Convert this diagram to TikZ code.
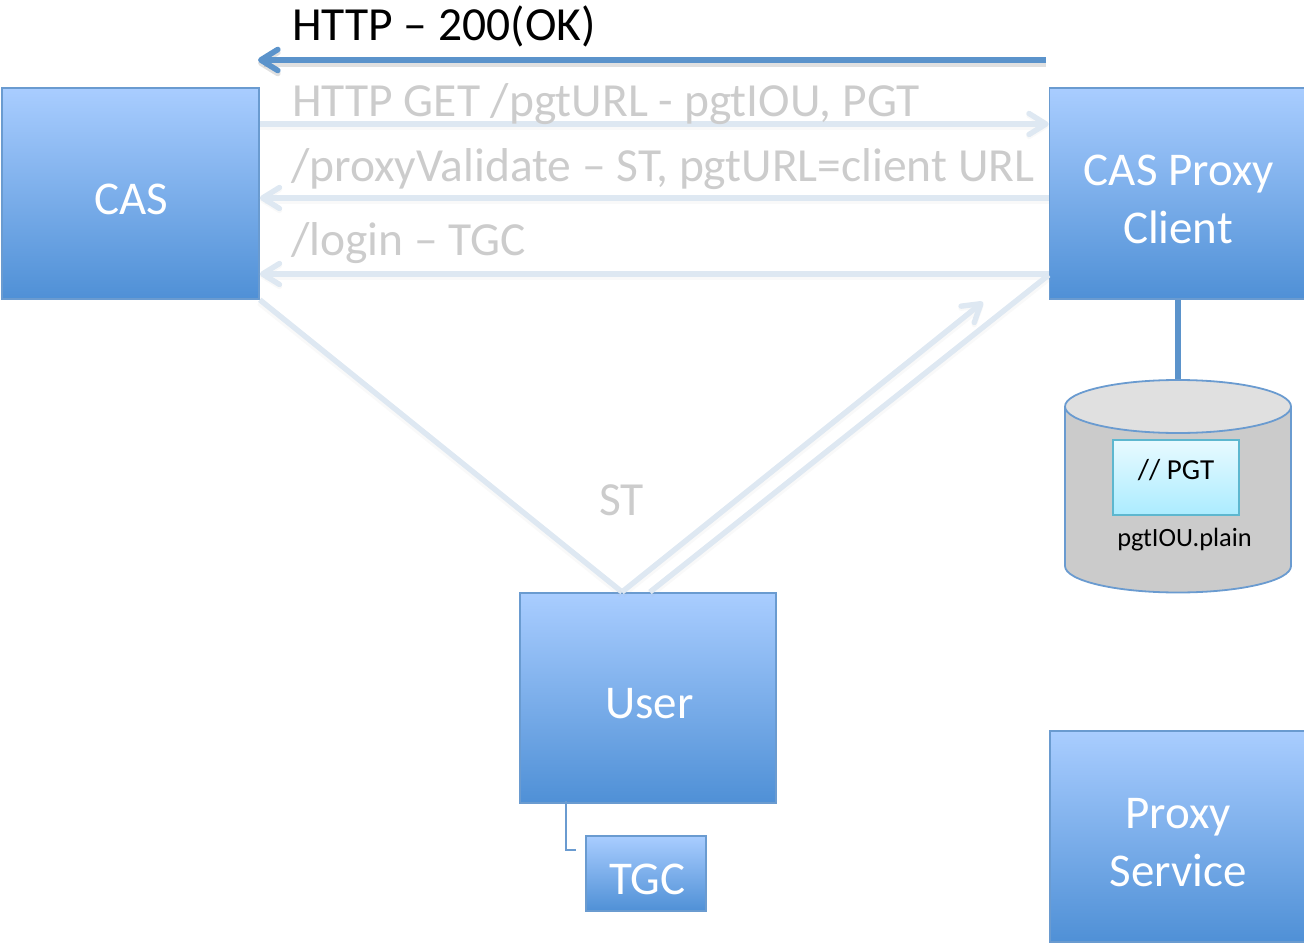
\documentclass[tikz,border=0pt]{standalone}
\usepackage{fontspec}
\setmainfont{Carlito}
\usetikzlibrary{arrows.meta,calc}
\definecolor{boxtop}{HTML}{A9CDFF}
\definecolor{boxbot}{HTML}{4F90D6}
\definecolor{boxline}{HTML}{6A9BD0}
\definecolor{darkflow}{HTML}{5B93CB}
\definecolor{paleflow}{HTML}{DEE8F2}
\definecolor{greytext}{HTML}{CCCCCC}
\definecolor{cylbody}{HTML}{CBCBCB}
\definecolor{cyltopc}{HTML}{E0E0E0}
\definecolor{pgttop}{HTML}{E8FAFF}
\definecolor{pgtbot}{HTML}{ABECFF}
\definecolor{pgtline}{HTML}{5DB7CF}
\newcommand{\lowertext}[1]{\raisebox{0pt}[\dimexpr\height+11.5pt\relax]{#1}}
\tikzset{
  x=1pt,y=-1pt,
  bluebox/.style={draw=boxline,line width=1.6pt,top color=boxtop,bottom color=boxbot,
    text=white,align=center,inner sep=0pt,font=\fontsize{47}{58}\selectfont},
  flowlabel/.style={anchor=base west,inner sep=0pt,text=greytext,font=\fontsize{47.5}{50}\selectfont},
  paleline/.style={draw=paleflow,line width=5.4pt,preaction={draw=black!30,opacity=.08,line width=8pt,transform canvas={yshift=-2pt}}},
  palearrow/.style={paleline,-{Straight Barb[length=17pt,width=21pt,round,line width=5.4pt]}},
  darkarrow/.style={draw=darkflow,line width=5.6pt,
    preaction={draw=black,opacity=.12,line width=8pt,transform canvas={yshift=-3pt}},
    -{Straight Barb[length=17pt,width=21pt,round,line width=5.6pt]}},
}
\begin{document}
\begin{tikzpicture}
\useasboundingbox (0,0) rectangle (1304,944);
% boxes
\node[bluebox,minimum width=257pt,minimum height=211pt] (cas) at (130.5,193.5) {\lowertext{\hspace{2pt}CAS}};
\node[bluebox,minimum width=257pt,minimum height=211pt] (client) at (1178,193.5) {\lowertext{\hspace{1.5pt}CAS Proxy}\\Client};
\node[bluebox,minimum width=256pt,minimum height=210pt] (user) at (648,698) {\lowertext{\hspace{3pt}User}};
\node[bluebox,minimum width=120pt,minimum height=75pt] (tgc) at (646,873.5) {\lowertext{\hspace{3pt}TGC}};
\node[bluebox,minimum width=256pt,minimum height=211pt] (proxy) at (1178,836.5) {\lowertext{Proxy}\\Service};
% free ends
\coordinate (topstart) at (1046,60);
\coordinate (topend) at (258,60);
\coordinate (cyltop) at (1178,380);
\coordinate (upeak) at (622,592);
\coordinate (ustart) at (650,592);
\coordinate (uarrow) at (983,302);
\coordinate (elbow) at (576,850);
% connectors
\draw[darkarrow] (topstart) -- (topend);
\draw[palearrow] (cas.east |- 0,124) -- (client.west |- 0,124);
\draw[palearrow] (client.west |- 0,198) -- (cas.east |- 0,198);
\draw[palearrow] (client.west |- 0,274) -- (cas.east |- 0,274);
\draw[paleline] (cas.south east) -- (upeak);
\draw[palearrow] (upeak) -- (uarrow);
\draw[paleline] (ustart) -- ($(client.west |- 0,275)$);
\draw[draw=darkflow,line width=6pt] (client.south) -- (cyltop);
\draw[draw=boxline,line width=2pt] ($(user.south west)+(47,-3)$) |- (elbow);
% cylinder
\draw[draw=boxline,line width=1.8pt,fill=cylbody]
  (1065,407) -- (1065,566) arc[start angle=180,end angle=360,x radius=113,y radius=-26.5]
  -- (1291,407) -- cycle;
\draw[draw=boxline,line width=1.8pt,fill=cyltopc] (1178,406.5) ellipse[x radius=113,y radius=26.5];
\node[draw=pgtline,line width=1.8pt,top color=pgttop,bottom color=pgtbot,minimum width=126pt,minimum height=75pt,inner sep=0pt] (pgtbox) at (1176,477.5) {};
\node[anchor=base,inner sep=0pt,font=\fontsize{29}{32}\selectfont] (pgt) at (1176,479) {// PGT};
\node[anchor=base,inner sep=0pt,font=\fontsize{26.4}{30}\selectfont] (iou) at (1184.5,546) {pgtIOU.plain};
% labels
\node[anchor=base west,inner sep=0pt,font=\fontsize{47.5}{50}\selectfont] (l0) at (292,41) {HTTP – 200(OK)};
\node[flowlabel] (l1) at (292,117) {HTTP GET /pgtURL - pgtIOU, PGT};
\node[flowlabel] (l2) at (291,182) {/proxyValidate – ST, pgtURL=client URL};
\node[flowlabel] (l3) at (291,255) {/login – TGC};
\node[flowlabel] (l4) at (599,515) {ST};
\end{tikzpicture}
\end{document}
